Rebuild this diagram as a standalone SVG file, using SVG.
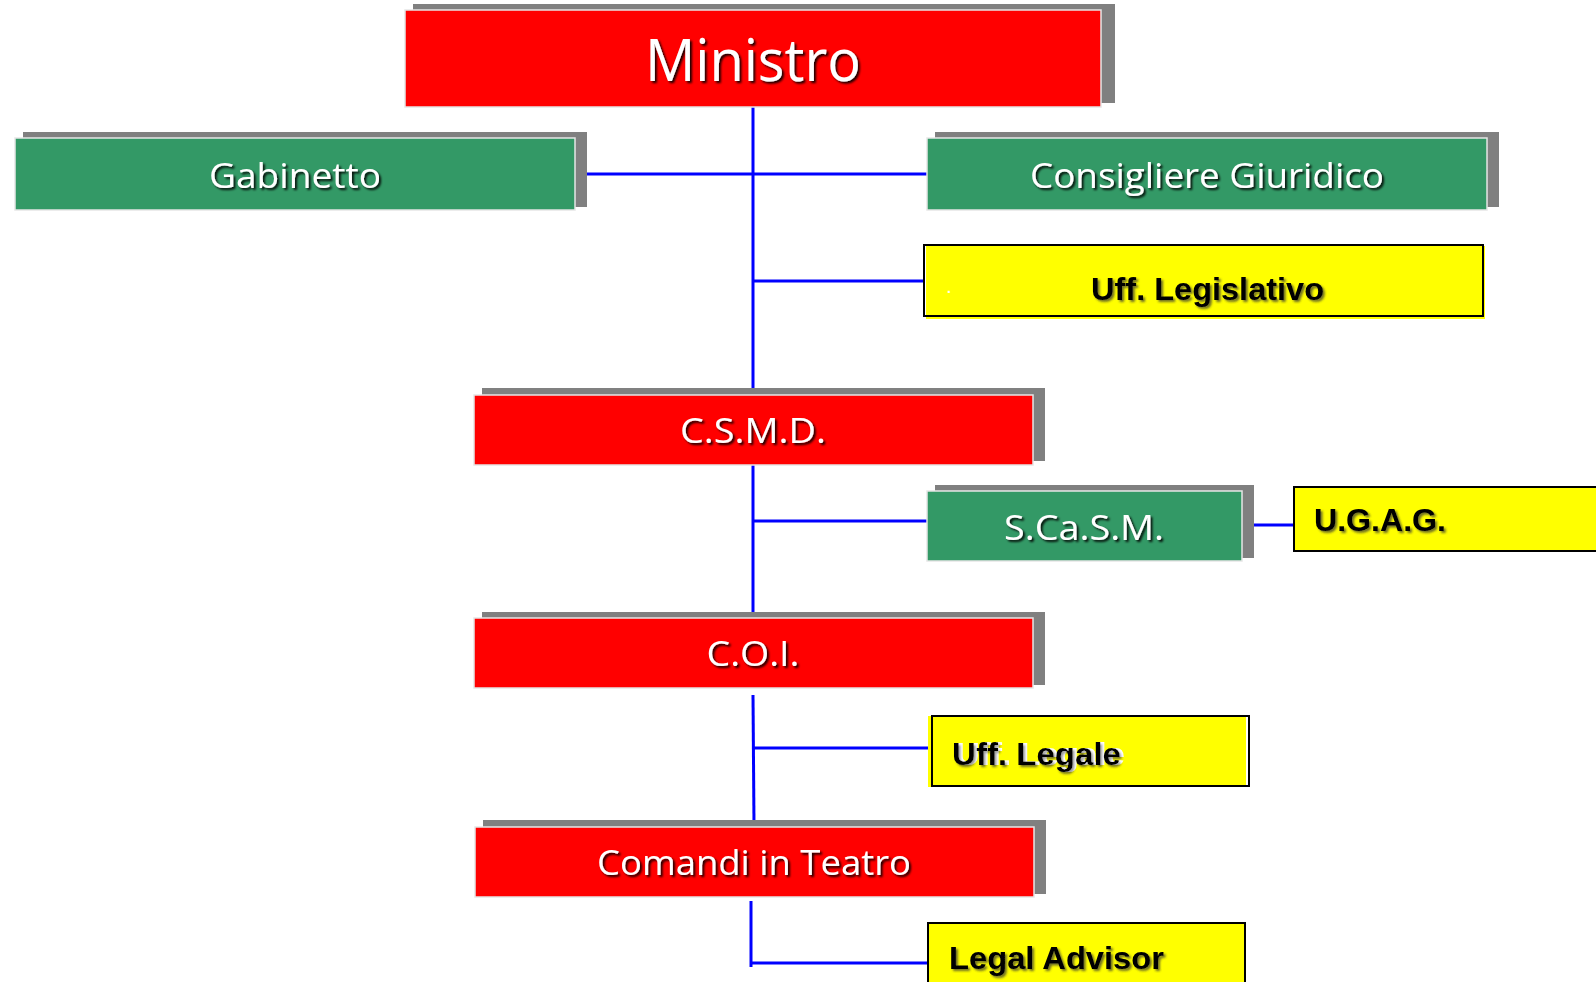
<svg xmlns="http://www.w3.org/2000/svg" width="1596" height="982" viewBox="0 0 1596 982">
<defs>
<filter id="ts" x="-10%" y="-30%" width="120%" height="160%">
<feDropShadow dx="2" dy="2" stdDeviation="1" flood-color="#000" flood-opacity="0.9"/>
</filter>
<filter id="tsb" x="-10%" y="-30%" width="120%" height="160%">
<feDropShadow dx="2" dy="2" stdDeviation="1.2" flood-color="#333" flood-opacity="0.7"/>
</filter>
<filter id="tsw" x="-10%" y="-30%" width="120%" height="160%">
<feFlood flood-color="#fff" result="w"/>
<feComposite in="w" in2="SourceAlpha" operator="in" result="wa"/>
<feOffset in="wa" dx="4" dy="0" result="wo"/>
<feGaussianBlur in="SourceAlpha" stdDeviation="1.2" result="b"/>
<feOffset in="b" dx="2" dy="2" result="bo"/>
<feFlood flood-color="#333" flood-opacity="0.7" result="g"/>
<feComposite in="g" in2="bo" operator="in" result="go"/>
<feMerge><feMergeNode in="wo"/><feMergeNode in="go"/><feMergeNode in="SourceGraphic"/></feMerge>
</filter>
</defs>
<style>
.sh{fill:#808080}
.red{fill:#ff0000;stroke:#e6e6e6;stroke-width:1.5}
.grn{fill:#339966;stroke:#e6e6e6;stroke-width:1.5}
.yel{fill:#ffff00}
.bd{fill:none;stroke:#000;stroke-width:2}
.wt{fill:#fff;font-family:"Open Sans","Liberation Sans",sans-serif;text-anchor:middle;filter:url(#ts)}
.bt{fill:#000;font-family:"Liberation Sans",sans-serif;font-weight:bold;filter:url(#tsb)}
.cn{stroke:#0000ff;stroke-width:3;fill:none}
</style>
<g id="connectors">
<line class="cn" x1="753" y1="107" x2="753" y2="388"/>
<line class="cn" x1="575" y1="174" x2="927" y2="174"/>
<line class="cn" x1="753" y1="281" x2="924" y2="281"/>
<line class="cn" x1="753" y1="465" x2="753" y2="612"/>
<line class="cn" x1="753" y1="521" x2="927" y2="521"/>
<line class="cn" x1="1243" y1="525" x2="1294" y2="525"/>
<line class="cn" x1="753" y1="695" x2="754" y2="825"/>
<line class="cn" x1="754" y1="748" x2="928" y2="748"/>
<polyline class="cn" points="751,901 751,967"/>
<line class="cn" x1="751" y1="963" x2="928" y2="963"/>
</g>
<g id="ministro">
<rect class="sh" x="413" y="4" width="702" height="99"/>
<rect class="red" x="405" y="10" width="696" height="97"/>
<text class="wt" x="753" y="81" font-size="58" textLength="216" lengthAdjust="spacingAndGlyphs">Ministro</text>
</g>
<g id="gabinetto">
<rect class="sh" x="23" y="132" width="564" height="75"/>
<rect class="grn" x="15" y="138" width="560" height="72"/>
<text class="wt" x="295" y="188" font-size="35" textLength="172" lengthAdjust="spacingAndGlyphs">Gabinetto</text>
</g>
<g id="consigliere">
<rect class="sh" x="935" y="132" width="564" height="75"/>
<rect class="grn" x="927" y="138" width="560" height="72"/>
<text class="wt" x="1207" y="188" font-size="35" textLength="354" lengthAdjust="spacingAndGlyphs">Consigliere Giuridico</text>
</g>
<g id="legislativo">
<rect class="yel" x="926" y="246" width="559" height="73"/>
<rect class="bd" x="924" y="245" width="559" height="71"/>
<text x="947" y="293" font-size="14" fill="#fff" font-family="Liberation Sans,sans-serif" font-weight="bold">.</text>
<text class="bt" x="1091" y="300" font-size="32" textLength="233" lengthAdjust="spacingAndGlyphs">Uff. Legislativo</text>
</g>
<g id="csmd">
<rect class="sh" x="482" y="388" width="563" height="73"/>
<rect class="red" x="474" y="395" width="559" height="70"/>
<text class="wt" x="753" y="443" font-size="35" textLength="146" lengthAdjust="spacingAndGlyphs">C.S.M.D.</text>
</g>
<g id="scasm">
<rect class="sh" x="935" y="485" width="319" height="73"/>
<rect class="grn" x="927" y="491" width="315" height="70"/>
<text class="wt" x="1084" y="540" font-size="35" textLength="160" lengthAdjust="spacingAndGlyphs">S.Ca.S.M.</text>
</g>
<g id="ugag">
<rect class="yel" x="1294" y="487" width="310" height="64"/>
<rect class="bd" x="1294" y="487" width="310" height="64"/>
<text class="bt" x="1314" y="531" font-size="32" textLength="132" lengthAdjust="spacingAndGlyphs">U.G.A.G.</text>
</g>
<g id="coi">
<rect class="sh" x="482" y="612" width="563" height="73"/>
<rect class="red" x="474" y="618" width="559" height="70"/>
<text class="wt" x="753" y="666" font-size="35" textLength="93" lengthAdjust="spacingAndGlyphs">C.O.I.</text>
</g>
<g id="legale">
<rect class="yel" x="928" y="716" width="318" height="71"/>
<rect class="bd" x="932" y="716" width="317" height="70"/>
<text x="952" y="765" font-size="32" fill="#000" font-family="Liberation Sans,sans-serif" font-weight="bold" filter="url(#tsw)" textLength="169" lengthAdjust="spacingAndGlyphs">Uff. Legale</text>
</g>
<g id="comandi">
<rect class="sh" x="483" y="820" width="563" height="74"/>
<rect class="red" x="475" y="827" width="559" height="70"/>
<text class="wt" x="754" y="875" font-size="35" textLength="314" lengthAdjust="spacingAndGlyphs">Comandi in Teatro</text>
</g>
<g id="legaladvisor">
<rect class="yel" x="928" y="923" width="317" height="70"/>
<rect class="bd" x="928" y="923" width="317" height="70"/>
<text class="bt" x="949" y="969" font-size="32" textLength="215" lengthAdjust="spacingAndGlyphs">Legal  Advisor</text>
</g>
</svg>
